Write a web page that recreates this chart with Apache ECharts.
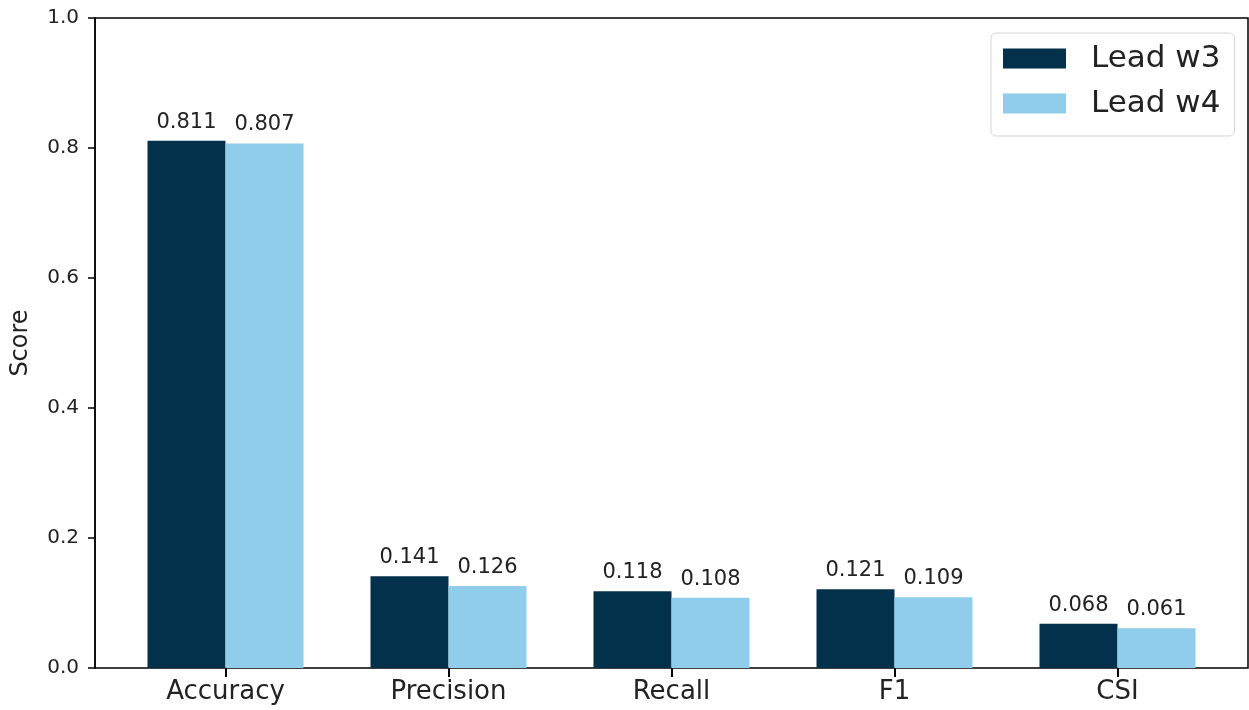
<!DOCTYPE html>
<html><head><meta charset="utf-8">
<script src="https://cdn.jsdelivr.net/npm/echarts@6/dist/echarts.min.js"></script>
<style>html,body{margin:0;padding:0;background:#fff}#c{width:1249px;height:710px}</style>
</head><body><div id="c"></div>
<script>
const categories = ['Accuracy', 'Precision', 'Recall', 'F1', 'CSI'];
const leadW3 = [0.811, 0.141, 0.118, 0.121, 0.068];
const leadW4 = [0.807, 0.126, 0.108, 0.109, 0.061];
const seriesNames = ['Lead w3', 'Lead w4'];
const colors = ['#03304b', '#8fcdea'];
const font = 'DejaVu Sans';

const chart = echarts.init(document.getElementById('c'), null, {renderer: 'canvas'});
const lbl = {
  show: true, position: 'top', distance: 8, color: '#222', fontFamily: font, fontSize: 21,
  formatter: p => p.value.toFixed(3)
};
chart.setOption({
  animation: false,
  color: colors,
  grid: [
    {left: 95, right: 1, top: 18, bottom: 42, show: true, borderColor: '#000', borderWidth: 1.5, backgroundColor: 'transparent'},
    {left: 114, right: 20, top: 18, bottom: 42}
  ],
  legend: {
    orient: 'vertical', left: 991, top: 33,
    data: seriesNames,
    icon: 'rect',
    itemWidth: 63, itemHeight: 20, itemGap: 14,
    padding: [10, 14, 17, 12],
    backgroundColor: '#fff', borderColor: '#d5d5d5', borderWidth: 1, borderRadius: 5,
    textStyle: {fontFamily: font, fontSize: 31, color: '#222', padding: [0, 0, 0, 20]}
  },
  xAxis: [
    {type: 'value', gridIndex: 0, min: 0, max: 1, show: false},
    {type: 'category', gridIndex: 1, data: categories, position: 'bottom',
     axisLine: {show: false},
     axisTick: {show: true, inside: false, interval: 0, alignWithLabel: true, length: 9, lineStyle: {color: '#000', width: 2}},
     axisLabel: {color: '#222', fontFamily: font, fontSize: 26, margin: 11}}
  ],
  yAxis: [
    {type: 'value', gridIndex: 0, min: 0, max: 1, interval: 0.2,
     name: 'Score', nameLocation: 'middle', nameGap: 62,
     nameTextStyle: {fontFamily: font, fontSize: 24, color: '#222'},
     splitLine: {show: false},
     axisLine: {show: true, lineStyle: {color: '#000', width: 1.5}},
     axisTick: {show: true, length: 7, lineStyle: {color: '#000', width: 1.5}},
     axisLabel: {color: '#222', fontFamily: font, fontSize: 20, margin: 16, formatter: v => v.toFixed(1)}},
    {type: 'value', gridIndex: 1, min: 0, max: 1, show: false}
  ],
  series: [
    {name: seriesNames[0], type: 'bar', xAxisIndex: 1, yAxisIndex: 1, data: leadW3, barWidth: 78, barGap: '0%', label: lbl},
    {name: seriesNames[1], type: 'bar', xAxisIndex: 1, yAxisIndex: 1, data: leadW4, barWidth: 78, barGap: '0%', label: lbl}
  ]
});
</script></body></html>
